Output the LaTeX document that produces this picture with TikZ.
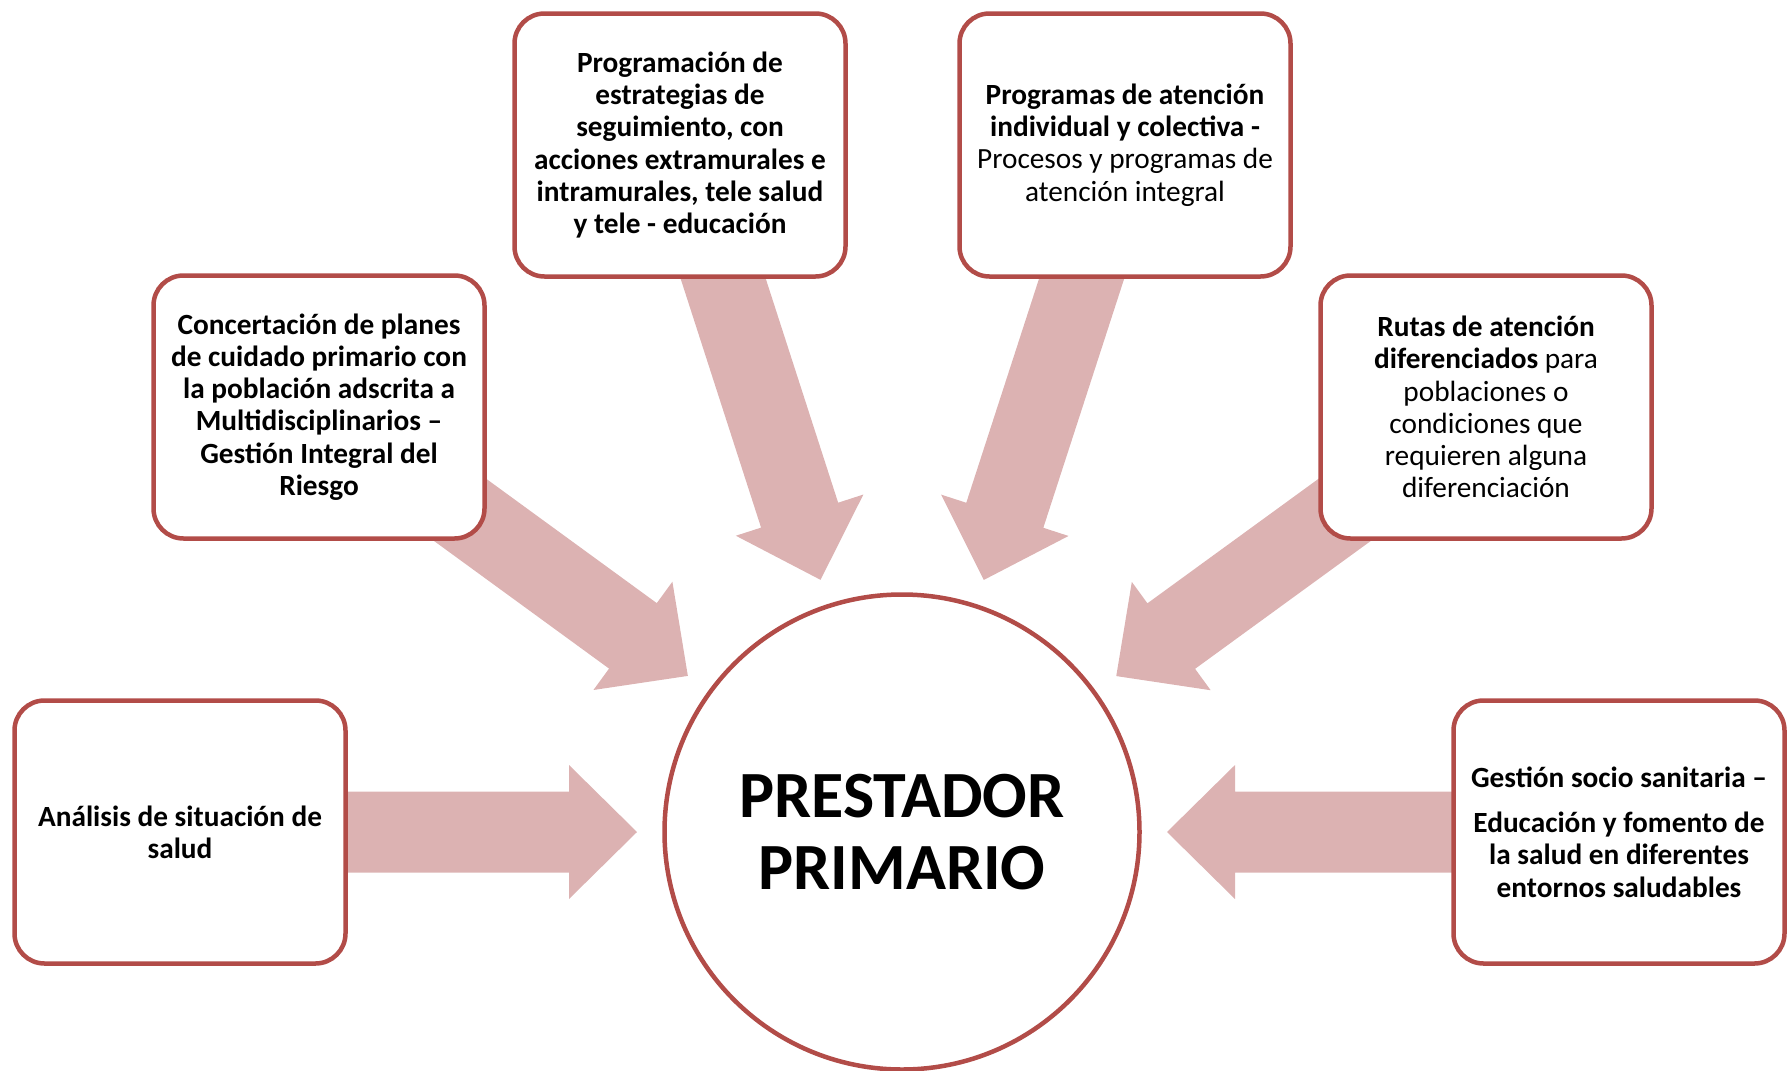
\documentclass[tikz,border=0pt]{standalone}
\usepackage{fontspec}
\setmainfont{Carlito}
\usetikzlibrary{calc,backgrounds}

\definecolor{boxred}{HTML}{B24C48}
\definecolor{arrowpink}{HTML}{DCB2B2}

\tikzset{
  box/.style={draw=boxred, line width=4.5pt, fill=white, rounded corners=30pt,
    minimum width=331pt, minimum height=263pt, align=center,
    font=\fontsize{29.3}{32.3}\selectfont\bfseries},
  hub/.style={circle, draw=boxred, line width=4.5pt, fill=white,
    minimum size=475pt, align=center,
    font=\fontsize{66}{72}\selectfont\bfseries},
}

% wide block arrow from #1 (tail) to #2 (tip)
\newcommand{\fatarrow}[2]{%
  \coordinate (fa-base) at ($(#2)!68pt!(#1)$);
  \fill[arrowpink] ($(#1)!40.5pt!90:(#2)$) -- ($(fa-base)!40.5pt!90:(#2)$)
    -- ($(fa-base)!67pt!90:(#2)$) -- (#2)
    -- ($(fa-base)!67pt!-90:(#2)$) -- ($(fa-base)!40.5pt!-90:(#2)$)
    -- ($(#1)!40.5pt!-90:(#2)$) -- cycle;}

\begin{document}
\begin{tikzpicture}[x=1pt, y=-1pt]
	\useasboundingbox (0,0) rectangle (1789,1071);

	\node[hub] (prest) at (902,832) {PRESTADOR\\PRIMARIO};

	\node[box] (anal) at (180,832) {Análisis de situación de\\salud};
	\node[box] (conc) at (319,407) {Concertación de planes\\de cuidado primario con\\la población adscrita a\\Multidisciplinarios –\\Gestión Integral del\\Riesgo};
	\node[box] (prog) at (680,145) {Programación de\\estrategias de\\seguimiento, con\\acciones extramurales e\\intramurales, tele salud\\y tele - educación};
	\node[box] (atn) at (1125,145) {Programas de atención\\individual y colectiva -\\\mdseries Procesos y programas de\\\mdseries atención integral};
	\node[box] (rutas) at (1486,407) {Rutas de atención\\diferenciados \mdseries para\\\mdseries poblaciones o\\\mdseries condiciones que\\\mdseries requieren alguna\\\mdseries diferenciación};
	\node[box] (gest) at (1619,832) {Gestión socio sanitaria –\\[13pt]Educación y fomento de\\la salud en diferentes\\entornos saludables};

	% arrows behind the boxes
	\begin{pgfonlayer}{background}
		\foreach \b in {anal,conc,prog,atn,rutas,gest}{
			\coordinate (tip-\b) at ($(prest)!265pt!(\b)$);
			\fatarrow{\b}{tip-\b}
		}
	\end{pgfonlayer}
\end{tikzpicture}
\end{document}
